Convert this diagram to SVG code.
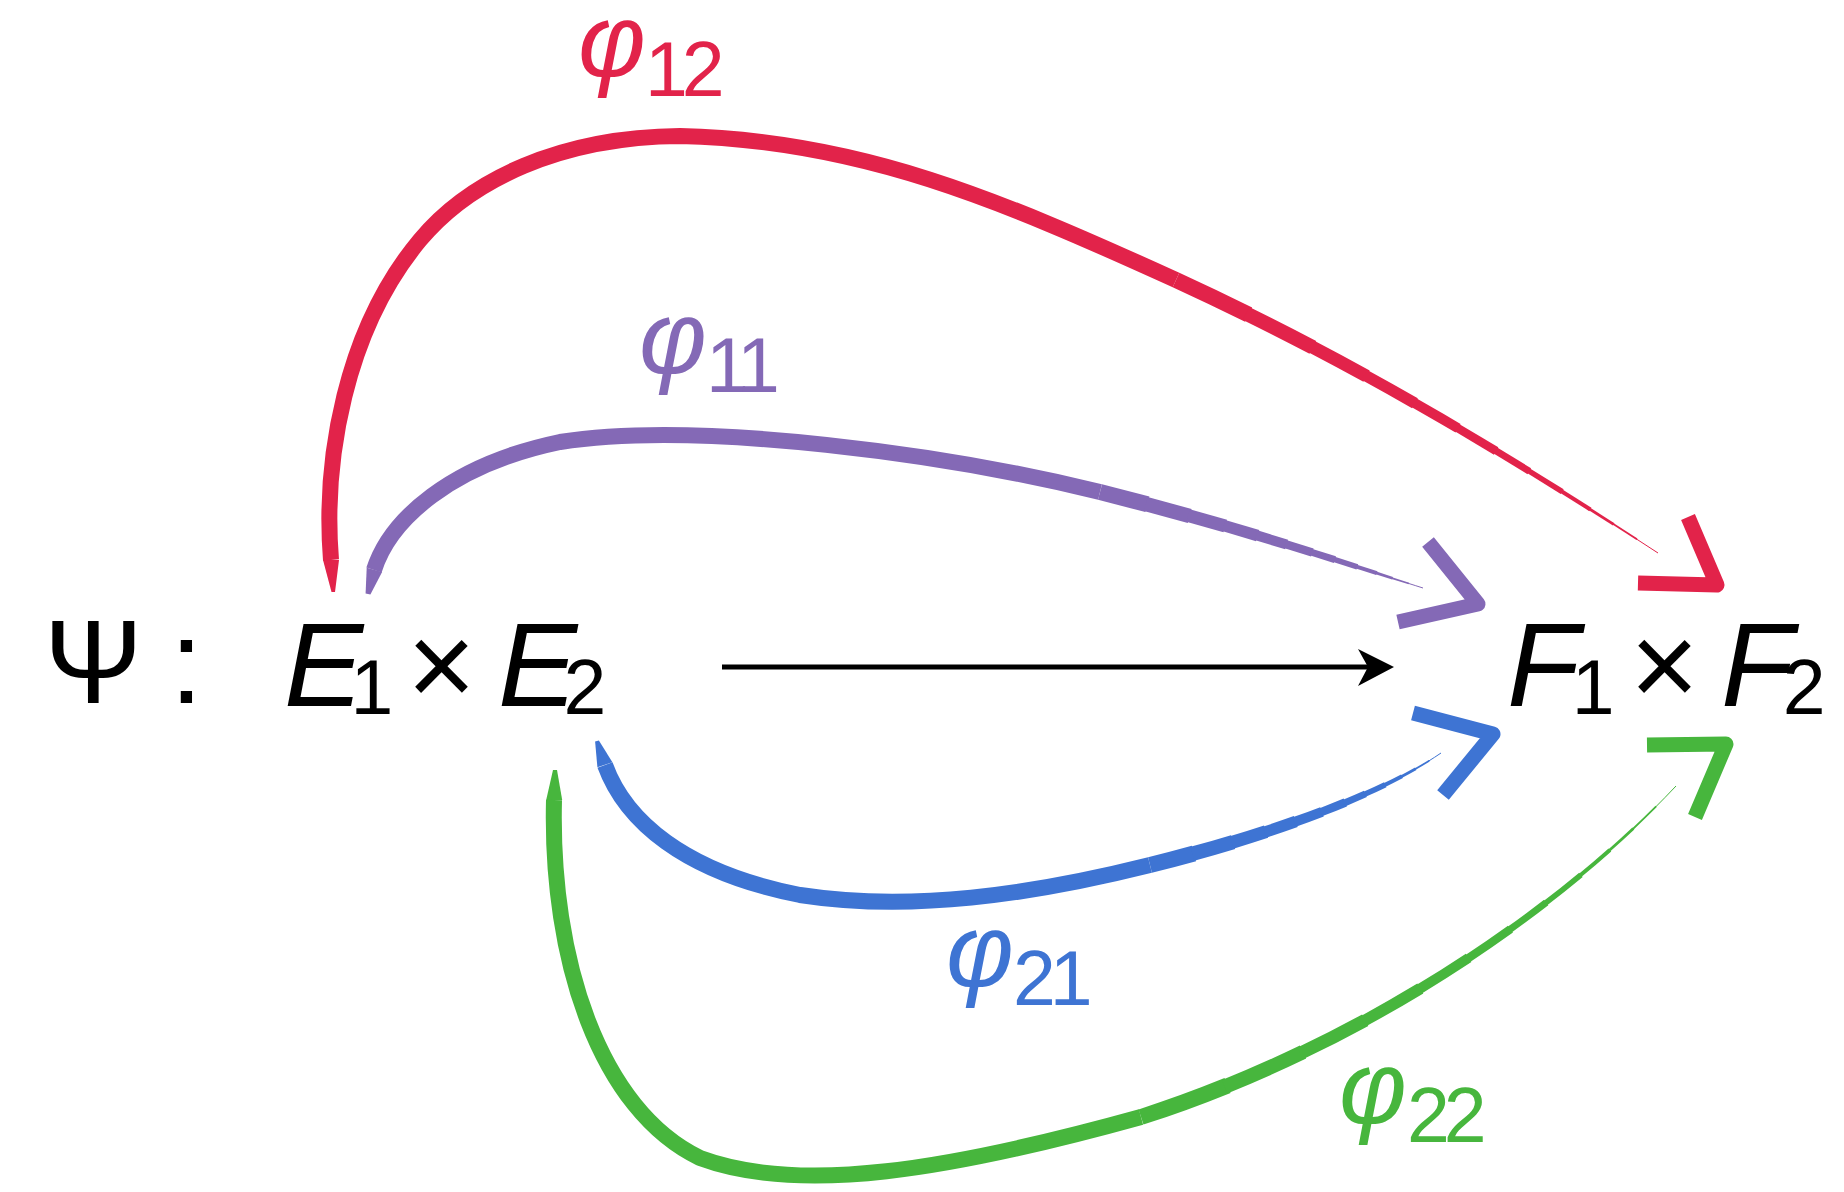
<svg xmlns="http://www.w3.org/2000/svg" width="1844" height="1192" viewBox="0 0 1844 1192">
<style>
.t{font-family:"Liberation Sans",Arial,sans-serif;fill:#000}
.it{font-style:italic}
.sub{font-style:normal;font-size:77px}
.dg{font-style:normal;font-size:77px;letter-spacing:-6px}
.body{fill:none;stroke-width:16;stroke-linecap:butt}
.tl{fill:none;stroke-linecap:butt}
.ah{fill:none;stroke-width:15;stroke-linejoin:round;stroke-linecap:butt}
.red{stroke:#E2234A}.pur{stroke:#8469B6}.blu{stroke:#3E74D3}.grn{stroke:#47B63D}
.lred{fill:#E2234A}.lpur{fill:#8469B6}.lblu{fill:#3E74D3}.lgrn{fill:#47B63D}
.s1{stroke-width:16;stroke-dasharray:0 0 14.5 200}
.s2{stroke-width:14.5;stroke-dasharray:0 14 13.5 200}
.s3{stroke-width:13;stroke-dasharray:0 27 11.5 200}
.s4{stroke-width:11.5;stroke-dasharray:0 38 10.5 200}
.s5{stroke-width:10;stroke-dasharray:0 48 9.5 200}
.s6{stroke-width:8.5;stroke-dasharray:0 57 8.5 200}
.s7{stroke-width:7;stroke-dasharray:0 65 7.5 200}
.s8{stroke-width:5.5;stroke-dasharray:0 72 7.5 200}
.s9{stroke-width:4;stroke-dasharray:0 79 6.5 200}
.s10{stroke-width:2.8;stroke-dasharray:0 85 5.5 200}
.s11{stroke-width:1.8;stroke-dasharray:0 90 5.5 200}
.s12{stroke-width:1;stroke-dasharray:0 95 5 200}
</style>
<defs>
<path id="tr" pathLength="100" d="M1176,280 C1350,360 1500,450 1658,553"/>
<path id="tp" pathLength="100" d="M1100,492 C1250,530 1350,565 1423,588"/>
<path id="tb" pathLength="100" d="M1150,865 C1270,835 1380,795 1441,753"/>
<path id="tg" pathLength="100" d="M1141,1117 C1350,1050 1550,920 1676,786"/>
</defs>
<g id="connectors">
<g id="phi12-edge">
<polygon class="lred" points="331.5,592 335,592 339,560 323,560"/>
<path class="body red" d="M331,560 C323,460 345,330 420,240 C470,180 560,137 680,136 C860,140 1000,200 1176,280"/>
<g class="red">
<use href="#tr" class="tl s1"/><use href="#tr" class="tl s2"/><use href="#tr" class="tl s3"/><use href="#tr" class="tl s4"/>
<use href="#tr" class="tl s5"/><use href="#tr" class="tl s6"/><use href="#tr" class="tl s7"/><use href="#tr" class="tl s8"/>
<use href="#tr" class="tl s9"/><use href="#tr" class="tl s10"/><use href="#tr" class="tl s11"/><use href="#tr" class="tl s12"/>
</g>
<polyline class="ah red" points="1688,517 1717,585 1638,583"/>
</g>
<g id="phi11-edge">
<polygon class="lpur" points="365.6,593.4 370.4,594.6 382.1,571.9 366.7,567.8"/>
<path class="body pur" d="M374,570 C390,520 450,465 560,442 C700,420 950,455 1100,492"/>
<g class="pur">
<use href="#tp" class="tl s1"/><use href="#tp" class="tl s2"/><use href="#tp" class="tl s3"/><use href="#tp" class="tl s4"/>
<use href="#tp" class="tl s5"/><use href="#tp" class="tl s6"/><use href="#tp" class="tl s7"/><use href="#tp" class="tl s8"/>
<use href="#tp" class="tl s9"/><use href="#tp" class="tl s10"/><use href="#tp" class="tl s11"/><use href="#tp" class="tl s12"/>
</g>
<polyline class="ah pur" points="1428,542 1478,604 1398,622"/>
</g>
<g id="phi21-edge">
<polygon class="lblu" points="598.9,740.4 595.1,741.6 597.4,767.2 612.4,762.2"/>
<path class="body blu" d="M605,765 C625,820 683,872 800,895 C910,912 1030,895 1150,865"/>
<g class="blu">
<use href="#tb" class="tl s1"/><use href="#tb" class="tl s2"/><use href="#tb" class="tl s3"/><use href="#tb" class="tl s4"/>
<use href="#tb" class="tl s5"/><use href="#tb" class="tl s6"/><use href="#tb" class="tl s7"/><use href="#tb" class="tl s8"/>
<use href="#tb" class="tl s9"/><use href="#tb" class="tl s10"/><use href="#tb" class="tl s11"/><use href="#tb" class="tl s12"/>
</g>
<polyline class="ah blu" points="1413,713 1493,734 1443,795"/>
</g>
<g id="phi22-edge">
<polygon class="lgrn" points="553,770 557,770 562.2,800 546.2,800"/>
<path class="body grn" d="M554,800 C550,960 600,1110 700,1158 C800,1195 950,1170 1141,1117"/>
<g class="grn">
<use href="#tg" class="tl s1"/><use href="#tg" class="tl s2"/><use href="#tg" class="tl s3"/><use href="#tg" class="tl s4"/>
<use href="#tg" class="tl s5"/><use href="#tg" class="tl s6"/><use href="#tg" class="tl s7"/><use href="#tg" class="tl s8"/>
<use href="#tg" class="tl s9"/><use href="#tg" class="tl s10"/><use href="#tg" class="tl s11"/><use href="#tg" class="tl s12"/>
</g>
<polyline class="ah grn" points="1647,745 1726,744 1695,817"/>
</g>
<g id="psi-edge">
<line x1="722" y1="667" x2="1372" y2="667" stroke="#000" stroke-width="5"/>
<polygon points="1394,667 1358,649 1368,667 1358,686" fill="#000"/>
</g>
</g>
<g id="source">
<text class="t" x="44" y="703" font-size="118">Ψ</text>
<text class="t" x="170" y="703" font-size="118">:</text>
<text class="t it" x="284" y="706" font-size="119">E<tspan class="sub" dx="-13" dy="8">1</tspan></text>
<text class="t" x="407" y="706" font-size="118">×</text>
<text class="t it" x="498" y="706" font-size="119">E<tspan class="sub" dx="-14" dy="8">2</tspan></text>
</g>
<g id="target">
<text class="t it" x="1507" y="706" font-size="119">F<tspan class="sub" dx="-8" dy="8">1</tspan></text>
<text class="t" x="1630" y="706" font-size="118">×</text>
<text class="t it" x="1721" y="706" font-size="119">F<tspan class="sub" dx="-11" dy="8">2</tspan></text>
</g>
<g id="label-phi12">
<text class="t it lred" font-size="104"><tspan x="578" y="76">φ</tspan><tspan class="dg" x="645" y="96">12</tspan></text>
</g>
<g id="label-phi11">
<text class="t it lpur" font-size="104"><tspan x="639" y="373">φ</tspan><tspan class="dg" x="706" y="392">11</tspan></text>
</g>
<g id="label-phi21">
<text class="t it lblu" font-size="104"><tspan x="946" y="986">φ</tspan><tspan class="dg" x="1013" y="1005">21</tspan></text>
</g>
<g id="label-phi22">
<text class="t it lgrn" font-size="104"><tspan x="1339" y="1123">φ</tspan><tspan class="dg" x="1407" y="1142">22</tspan></text>
</g>
</svg>
